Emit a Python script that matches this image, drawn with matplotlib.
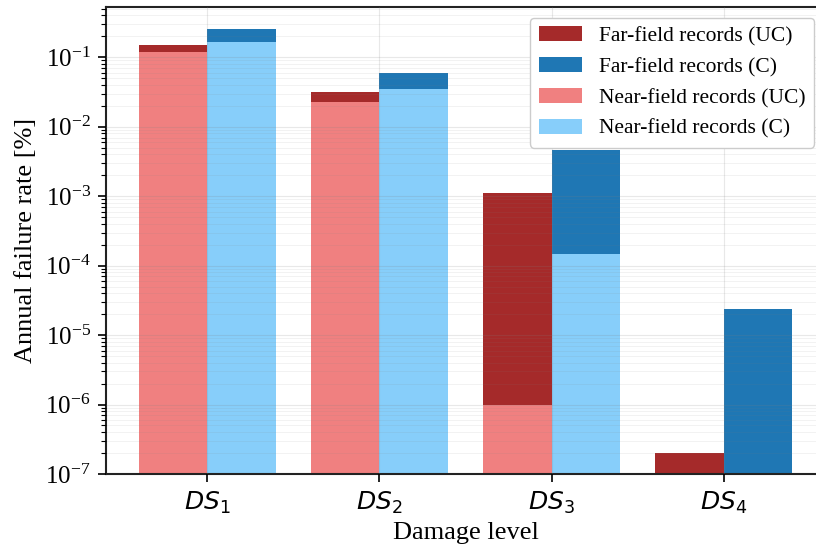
import numpy as np
import matplotlib
matplotlib.use("Agg")
import matplotlib.pyplot as plt
from matplotlib.ticker import FixedLocator, NullFormatter

categories = [r"$DS_1$", r"$DS_2$", r"$DS_3$", r"$DS_4$"]
far_uc = [0.150, 0.032, 1.10e-3, 2.0e-7]
far_c = [0.256, 0.059, 4.6e-3, 2.35e-5]
near_uc = [0.118, 0.023, 1.0e-6, np.nan]
near_c = [0.168, 0.035, 1.47e-4, np.nan]
y_major = [1e-7, 1e-6, 1e-5, 1e-4, 1e-3, 1e-2, 1e-1]

plt.rcParams['font.family'] = ['Liberation Serif', 'DejaVu Serif']
plt.rcParams['mathtext.fontset'] = 'dejavusans'

fig = plt.figure(figsize=(8.16, 5.47), dpi=100)
ax = fig.add_axes([106/816, 73/547, 719/816, 467/547])

x = np.arange(len(categories))
w = 0.4
ax.bar(x - w, far_uc, width=w, align='edge', color='#A52A2A', label='Far-field records (UC)')
ax.bar(x, far_c, width=w, align='edge', color='#1F77B4', label='Far-field records (C)')
ax.bar(x - w, near_uc, width=w, align='edge', color='#F08080', label='Near-field records (UC)')
ax.bar(x, near_c, width=w, align='edge', color='#87CEFA', label='Near-field records (C)')

ax.set_yscale('log')
ax.set_ylim(1e-7, 0.53)
ax.yaxis.set_major_locator(FixedLocator(y_major))
minors = [m * d for d in y_major for m in range(2, 10) if m * d <= 0.53]
ax.yaxis.set_minor_locator(FixedLocator(minors))
ax.yaxis.set_minor_formatter(NullFormatter())
ax.set_xlim(-0.59, 3.59)
ax.set_xticks(x)
ax.set_xticklabels(categories, fontsize=18)
ax.tick_params(axis='y', which='major', labelsize=18, length=6, width=1.2, pad=5)
ax.tick_params(axis='y', which='minor', length=3.5, width=0.8)
ax.tick_params(axis='x', length=5.5, width=1.2, pad=6)
ax.set_axisbelow(False)
ax.grid(True, which='major', color='gray', alpha=0.18, linewidth=0.8)
ax.grid(True, which='minor', axis='y', color='gray', alpha=0.12, linewidth=0.6)
for s in ax.spines.values():
    s.set_linewidth(1.5)
    s.set_color('#222222')

ax.set_ylabel('Annual failure rate [%]', fontsize=19, labelpad=6)
ax.set_xlabel('Damage level', fontsize=19, labelpad=4)
ax.legend(loc='upper right', fontsize=15.5, framealpha=1.0)

fig.savefig('out.png', dpi=100)
